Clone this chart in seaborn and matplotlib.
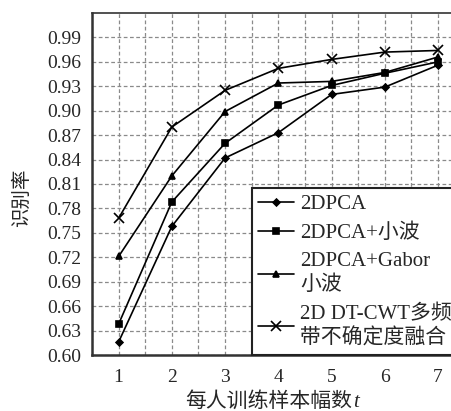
import numpy as np
import pandas as pd
import seaborn as sns
import matplotlib.pyplot as plt
import matplotlib.ticker as mticker

# ─── DATA ────────────────────────────────────────────────────────────────────
samples = [1, 2, 3, 4, 5, 6, 7]

acc_2dpca         = [0.616, 0.758, 0.842, 0.873, 0.920, 0.929, 0.956]
acc_2dpca_wavelet = [0.638, 0.788, 0.860, 0.907, 0.931, 0.946, 0.960]
acc_2dpca_gabor   = [0.721, 0.820, 0.899, 0.934, 0.936, 0.947, 0.966]
acc_dtcwt_fusion  = [0.768, 0.880, 0.925, 0.952, 0.963, 0.972, 0.974]

labels = ["2DPCA", "2DPCA+小波", "2DPCA+Gabor\n小波", "2D DT-CWT多频\n带不确定度融合"]
y_ticks = [0.60, 0.63, 0.66, 0.69, 0.72, 0.75, 0.78, 0.81, 0.84, 0.87,
           0.90, 0.93, 0.96, 0.99]

# ─── STYLE ───────────────────────────────────────────────────────────────────
sns.set_style("white")
plt.rcParams["font.family"] = ["Liberation Serif", "Noto Sans CJK SC", "DejaVu Sans"]

W, H = 452, 411
fig = plt.figure(figsize=(W / 100, H / 100), dpi=100)
# axes run past the right edge of the picture (the original is cropped there)
left, right, top, bottom = 92, 464.7, 13, 355
ax = fig.add_axes([left / W, 1 - bottom / H, (right - left) / W, (bottom - top) / H])

series = [
    (acc_2dpca,         "D", 3.5),
    (acc_2dpca_wavelet, "s", 5.0),
    (acc_2dpca_gabor,   "^", 5.0),
    (acc_dtcwt_fusion,  "x", 7.0),
]
for (vals, mk, ms), lab in zip(series, labels):
    df = pd.DataFrame({"t": samples, "acc": vals})
    sns.lineplot(data=df, x="t", y="acc", ax=ax, color="black", lw=1.2,
                 marker=mk, markersize=ms, markeredgewidth=1.2,
                 markeredgecolor="black", markerfacecolor="black", label=lab)

ax.set_xlim(0.5, 7.5)
ax.set_ylim(0.60, 1.02)
ax.set_xticks(samples)
ax.xaxis.set_minor_locator(mticker.MultipleLocator(0.5))
ax.set_yticks(y_ticks)
ax.yaxis.set_major_formatter(mticker.FormatStrFormatter("%.2f"))
ax.tick_params(axis="both", which="both", length=0, labelsize=14)
ax.tick_params(axis="y", pad=8)
ax.tick_params(axis="x", pad=10)
ax.grid(True, which="both", axis="x", color="#8a8a8a", ls=(0, (3, 2)), lw=0.9)
ax.grid(True, which="major", axis="y", color="#8a8a8a", ls=(0, (3, 2)), lw=0.9)

for name, sp in ax.spines.items():
    sp.set_color("#333333")
    sp.set_linewidth(1.8 if name in ("left", "bottom") else 1.2)

ax.set_xlabel("")
ax.set_ylabel("")
# x label: Chinese text followed by an italic t
fig.text(352 / W, 1 - 402 / H, "每人训练样本幅数", ha="right", va="center", fontsize=15)
fig.text(353 / W, 1 - 402 / H, "t", ha="left", va="center", fontsize=15, style="italic")
fig.text(22 / W, 1 - 198 / H, "识别率", ha="center", va="center", rotation=90, fontsize=14)

leg = ax.legend(loc="lower left", bbox_to_anchor=((252 - left) / (right - left), 0),
                borderaxespad=0, fontsize=15, frameon=True, fancybox=False,
                handlelength=1.7, handletextpad=0.3, labelspacing=0.45,
                borderpad=0.3)
for txt in leg.get_texts():
    txt.set_linespacing(1.3)
leg.get_frame().set_edgecolor("#222222")
leg.get_frame().set_linewidth(1.5)
leg.get_frame().set_alpha(1)

fig.savefig("out.png", dpi=100)
